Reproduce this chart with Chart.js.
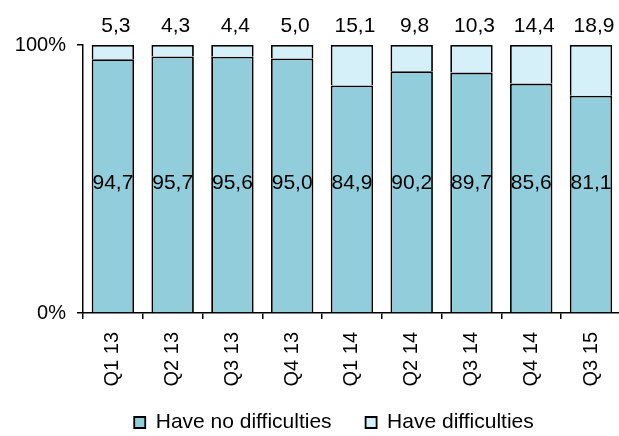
<!DOCTYPE html>
<html>
<head>
<meta charset="utf-8">
<script src="https://cdn.jsdelivr.net/npm/chart.js@4.4.0/dist/chart.umd.min.js"></script>
<style>
  html, body { margin: 0; padding: 0; background: #fff; overflow: hidden; }
  #wrap { width: 628px; height: 436px; }
</style>
</head>
<body>
<div id="wrap"><canvas id="chart"></canvas></div>
<script>
// quarters shown on the x axis
const quarters = ['Q1 13', 'Q2 13', 'Q3 13', 'Q4 13', 'Q1 14', 'Q2 14', 'Q3 14', 'Q4 14', 'Q3 15'];
// shares in percent
const noDifficulties = [94.7, 95.7, 95.6, 95.0, 84.9, 90.2, 89.7, 85.6, 81.1];
const haveDifficulties = [5.3, 4.3, 4.4, 5.0, 15.1, 9.8, 10.3, 14.4, 18.9];
const yTicks = [0, 100];

const FONT = 'Liberation Sans, Arial, sans-serif';

// draws the value labels (comma as decimal sign)
const valueLabels = {
  id: 'valueLabels',
  afterDatasetsDraw(chart) {
    const ctx = chart.ctx;
    const area = chart.chartArea;
    ctx.save();
    ctx.fillStyle = '#000';
    ctx.font = '21px ' + FONT;
    ctx.textAlign = 'center';
    ctx.textBaseline = 'middle';
    chart.data.datasets.forEach((ds, i) => {
      const meta = chart.getDatasetMeta(i);
      meta.data.forEach((bar, j) => {
        const txt = ds.data[j].toFixed(1).replace('.', ',');
        if (i === 0) {
          ctx.fillText(txt, bar.x, (area.top + area.bottom) / 2 + 4);
        } else {
          ctx.fillText(txt, bar.x + 3, area.top - 19);
        }
      });
    });
    ctx.restore();
  }
};

// legend: keep its reserved height small so the rotated labels fit,
// then place it near the bottom, a little right of centre
const legendPlace = {
  id: 'legendPlace',
  beforeLayout(chart) {
    const lg = chart.legend;
    if (lg && !lg._patched) {
      const fit = lg.fit;
      lg.fit = function () { fit.call(this); this.height = 46; };
      lg._patched = true;
    }
  },
  afterLayout(chart) {
    const lg = chart.legend;
    if (!lg) return;
    lg.left += 20; lg.right += 20;
    lg.top = 378; lg.bottom = 436;
  }
};

new Chart(document.getElementById('chart'), {
  type: 'bar',
  data: {
    labels: quarters,
    datasets: [
      {
        label: 'Have no difficulties',
        data: noDifficulties,
        backgroundColor: '#92CDDC',
        borderColor: '#000',
        borderWidth: 1.8,
        barPercentage: 0.71,
        categoryPercentage: 1
      },
      {
        label: 'Have difficulties',
        data: haveDifficulties,
        backgroundColor: '#D5F0F8',
        borderColor: '#000',
        borderWidth: 1.8,
        barPercentage: 0.71,
        categoryPercentage: 1
      }
    ]
  },
  options: {
    responsive: true,
    maintainAspectRatio: false,
    animation: false,
    layout: { padding: { top: 45, right: 0, bottom: 0, left: 0 } },
    scales: {
      x: {
        stacked: true,
        grid: { drawOnChartArea: false, drawTicks: true, tickLength: 6, color: '#000', lineWidth: 1.5, offset: true },
        border: { display: true, color: '#000', width: 1.5 },
        ticks: {
          color: '#000',
          font: { family: FONT, size: 20 },
          minRotation: 90,
          maxRotation: 90,
          padding: 13
        },
        afterFit: (scale) => { scale.height = 77; }
      },
      y: {
        stacked: true,
        min: 0,
        max: 100,
        afterBuildTicks: (scale) => { scale.ticks = yTicks.map(v => ({ value: v })); },
        grid: { drawOnChartArea: false, drawTicks: true, tickLength: 6, color: '#000', lineWidth: 1.5 },
        border: { display: true, color: '#000', width: 1.5 },
        ticks: {
          color: '#000',
          font: { family: FONT, size: 20 },
          padding: 11,
          callback: (v) => v + '%'
        },
        afterFit: (scale) => { scale.width = 83; }
      }
    },
    plugins: {
      legend: {
        position: 'bottom',
        labels: {
          color: '#000',
          font: { family: FONT, size: 21 },
          boxWidth: 11,
          boxHeight: 11,
          padding: 34,
          useBorderRadius: false
        }
      },
      tooltip: { enabled: false }
    }
  },
  plugins: [valueLabels, legendPlace]
});
</script>
</body>
</html>
